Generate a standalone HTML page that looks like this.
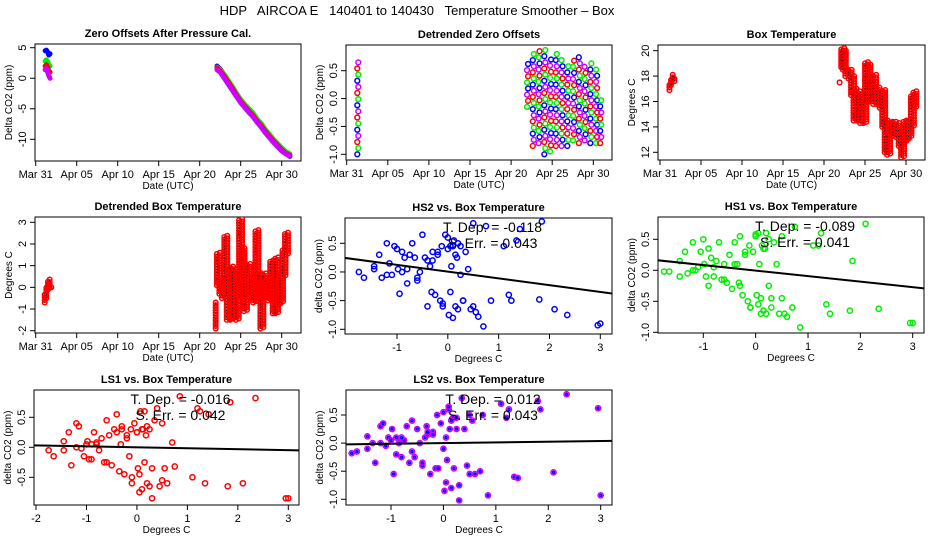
<!DOCTYPE html>
<html><head><meta charset="utf-8">
<style>
html,body{margin:0;padding:0;background:#fff;}
svg{display:block;font-family:"Liberation Sans",sans-serif;}
</style></head>
<body>
<svg id="c" width="936" height="540" viewBox="0 0 936 540">
<text x="417" y="15" font-size="13" text-anchor="middle" style="white-space:pre" xml:space="preserve">HDP   AIRCOA E   140401 to 140430   Temperature Smoother – Box</text>
</svg>
<script>
// ---------- data ----------
const dateTicks = [0,5,10,15,20,25,30];
const dateTickLabels = ["Mar 31","Apr 05","Apr 10","Apr 15","Apr 20","Apr 25","Apr 30"];

// Panel 1: zero offsets (days since Mar 31)
const zoEarlyDays = [1.15,1.3,1.45,1.6,1.75];
const zoEarlyBlue = [4.5,4.6,4.3,3.8,4.0];
const zoEarlyGreen = [2.8,3.0,2.7,2.2,2.0];
const zoEarlyRed = [2.0,2.2,1.8,1.2,1.0];
const zoEarlyMag = [1.4,1.6,1.0,0.4,0.0];
const zoLateDays = [22.1,22.5,23.0,23.5,24.0,24.5,25.0,25.5,26.0,26.5,27.0,27.5,28.0,28.5,29.0,29.5,30.0,30.5,31.0];
const zoLateBlue = [2.0,1.5,0.5,-0.6,-1.6,-2.7,-3.7,-4.5,-5.3,-6.0,-6.9,-7.7,-8.6,-9.4,-10.2,-10.9,-11.6,-12.3,-12.8];
const zoLateGreen = [1.8,1.4,0.6,-0.4,-1.4,-2.5,-3.5,-4.3,-5.0,-5.7,-6.7,-7.4,-8.4,-9.2,-10.0,-10.7,-11.4,-12.0,-12.4];
const zoLateRed = [1.7,1.2,0.3,-0.7,-1.7,-2.8,-3.8,-4.6,-5.4,-6.1,-7.0,-7.8,-8.7,-9.5,-10.3,-11.0,-11.7,-12.3,-12.6];
const zoLateMag = [1.4,1.0,0.0,-1.0,-2.0,-3.0,-4.0,-4.8,-5.6,-6.3,-7.2,-8.0,-8.9,-9.7,-10.5,-11.2,-11.9,-12.4,-12.7];

// Panel 2: detrended zero offsets, columns (time, low, high)
const dzDays = [1.35,22.0,22.7,23.4,24.1,24.8,25.5,26.2,26.9,27.6,28.3,29.0,29.7,30.4,30.9];
const dzLow  = [-1.0,-0.15,-0.85,-0.8,-1.0,-0.95,-0.85,-0.85,-0.85,-0.75,-0.8,-0.75,-0.8,-0.8,-0.8];
const dzHigh = [0.75,0.65,0.85,0.85,0.87,0.75,0.8,0.7,0.65,0.75,0.8,0.65,0.65,0.55,0.0];

// Panel 3: box temperature ranges
const btDays = [1.15,1.35,1.55,1.75,21.9,22.1,22.3,22.6,23.0,23.3,23.6,24.0,24.4,24.8,25.0,25.3,25.6,26.0,26.4,26.8,27.1,27.4,27.7,28.0,28.4,28.8,29.1,29.4,29.7,30.0,30.3,30.6,30.9];
const btLow  = [16.9,17.3,17.7,17.6,17.5,18.7,18.5,18.0,17.8,16.5,14.5,14.5,14.3,14.3,16.0,16.0,16.0,15.8,15.8,15.5,14.0,12.0,11.8,13.5,13.3,13.2,12.5,11.6,12.8,13.0,13.2,14.0,15.5];
const btHigh = [17.3,17.8,18.1,17.9,17.5,20.2,20.0,18.5,18.5,18.0,17.0,16.8,16.5,16.0,19.0,18.8,17.8,18.0,17.0,16.8,16.8,14.5,13.5,14.4,14.3,14.2,13.8,13.5,14.4,14.4,14.2,16.5,16.8];

// Panel 4: detrended box temperature ranges
const dbDays = [1.1,1.3,1.5,1.7,1.9,21.95,22.1,22.4,22.7,23.0,23.3,23.7,24.0,24.4,24.8,25.1,25.4,25.8,26.1,26.5,26.8,27.1,27.4,27.7,28.0,28.3,28.6,28.9,29.2,29.5,29.8,30.1,30.4];
const dbLow  = [-0.7,-0.5,-0.1,0.0,0.0,-1.9,0.1,-0.3,-0.5,-0.2,-1.5,-1.5,-1.4,-1.5,-0.5,-0.3,-1.1,-0.3,-0.5,-0.7,-0.3,-0.6,-1.9,-0.5,-0.3,-0.6,-0.5,-1.2,-1.2,-0.8,-0.7,0.5,1.5];
const dbHigh = [-0.3,0.0,0.3,0.4,0.1,-0.65,1.6,0.3,0.2,2.4,0.5,1.0,0.8,0.3,3.1,1.8,0.8,1.1,0.4,0.5,2.6,0.6,0.3,0.6,0.3,0.2,1.2,0.5,1.4,0.3,0.7,1.8,2.5];

// Scatter panels: detrended box temperature vs detrended offsets
const temps = [-1.75,-1.65,-1.45,-1.45,-1.35,-1.3,-1.2,-1.15,-1.1,-1.05,
 -1.0,-0.98,-0.95,-0.9,-0.85,-0.8,-0.75,-0.7,-0.65,-0.6,
 -0.55,-0.5,-0.45,-0.4,-0.35,-0.32,-0.3,-0.25,-0.2,-0.15,
 -0.12,-0.1,-0.05,0.0,0.02,0.05,0.07,0.1,0.12,0.15,
 0.18,0.2,0.25,0.3,0.35,0.45,0.5,0.55,0.6,0.75,
 0.85,1.1,1.25,1.35,1.42,1.8,1.85,2.1,2.35,3.0,
 -1.2,-0.9,-0.6,-0.3,-0.1,0.05,0.1,0.2,0.3,0.5,
 -0.8,-0.4,-0.2,0.0,0.15,0.25,0.4,0.7,1.2,2.95];
const hs2Vals = [0.0,-0.1,0.1,0.05,0.3,-0.1,0.5,0.15,-0.05,0.45,
 0.4,0.05,-0.38,0.35,0.25,-0.2,0.3,0.5,0.25,-0.1,
 0.0,0.65,0.25,-0.6,0.1,-0.35,0.35,-0.4,0.3,-0.5,
 0.45,-0.6,0.65,0.4,-0.75,-0.35,0.1,-0.8,0.55,-0.6,
 0.25,-0.65,0.45,-0.5,0.35,-0.65,0.85,-0.7,-0.78,0.8,
 -0.5,0.45,-0.5,0.55,0.75,-0.48,0.88,-0.65,-0.75,-0.9,
 -0.05,0.0,-0.15,0.2,-0.55,0.45,0.45,0.5,-0.5,-0.6,
 0.05,0.2,0.35,0.6,0.3,-0.05,0.05,-0.95,-0.4,-0.93];
const hs1Vals = [-0.02,-0.02,0.15,-0.1,0.3,-0.05,0.45,0.0,0.05,0.3,
 0.5,0.1,-0.1,0.35,0.2,-0.1,0.15,0.45,-0.15,0.1,
 -0.2,0.25,-0.3,0.45,0.1,-0.2,0.55,-0.4,0.3,-0.5,
 0.4,-0.6,0.3,0.55,-0.4,-0.55,0.1,-0.7,0.4,-0.65,
 0.35,-0.7,0.5,-0.6,0.45,-0.7,0.55,-0.7,-0.75,0.7,
 -0.92,0.4,0.6,-0.55,-0.7,-0.65,0.15,0.75,-0.62,-0.85,
 0.0,-0.25,-0.15,-0.25,-0.6,0.6,-0.45,0.6,-0.45,-0.45,
 0.05,0.1,0.25,0.58,0.35,-0.25,0.1,-0.6,0.4,-0.85];
const ls1Vals = [-0.05,-0.15,0.1,-0.05,0.25,-0.3,0.4,0.35,-0.02,-0.15,
 0.05,0.1,-0.2,0.05,0.25,0.08,-0.05,0.15,-0.25,0.45,
 0.2,-0.3,0.3,0.25,-0.4,0.05,0.35,-0.45,0.15,-0.15,
 0.3,-0.5,0.4,0.25,-0.35,-0.45,0.6,-0.7,0.3,-0.25,
 0.2,-0.6,0.3,-0.85,0.45,-0.65,0.4,-0.35,-0.6,-0.32,
 0.85,-0.5,0.6,-0.6,0.55,-0.65,0.75,-0.6,0.82,-0.85,
 0.0,-0.2,-0.25,0.3,-0.6,-0.75,0.3,0.35,-0.35,-0.55,
 0.05,0.55,0.2,0.25,0.6,-0.65,0.65,0.08,0.65,-0.85];
const ls2Vals = [-0.18,-0.15,0.12,-0.1,0.0,-0.35,0.3,0.35,-0.05,0.1,
 0.05,0.25,-0.55,0.1,0.0,-0.25,0.05,0.3,-0.35,0.4,
 -0.25,0.25,0.0,-0.4,0.1,0.3,0.15,-0.55,0.2,-0.45,
 0.5,-0.45,0.35,-0.1,-0.85,0.1,-0.3,0.6,0.25,-0.8,
 0.45,-0.45,0.25,-1.02,0.8,-0.4,0.5,0.4,-0.55,0.5,
 -0.93,0.7,0.6,-0.6,-0.62,0.75,0.6,-0.52,0.87,-0.93,
 0.0,-0.2,-0.15,0.2,-0.45,-0.7,0.65,0.45,-0.75,-0.55,
 0.1,-0.35,0.15,0.55,0.4,0.45,0.25,-0.5,0.45,0.62];
const fitSlopes = [-0.118,-0.089,-0.016,0.012];
const fitIntercepts = [0.006,-0.005,0.0,0.0];
const fitErrs = [0.043,0.041,0.042,0.043];

// ---------- drawing ----------
const NS="http://www.w3.org/2000/svg";
const svg=document.getElementById('c');
function mk(tag,attrs,parent){const e=document.createElementNS(NS,tag);for(const k in attrs)e.setAttribute(k,attrs[k]);(parent||svg).appendChild(e);return e;}
function lin(d0,p0,d1,p1){const k=(p1-p0)/(d1-d0);return v=>p0+(v-d0)*k;}

function panel(name,box,sx,sy,xt,xtl,yt,ytl,title,xlab,ylab){
  const g=mk('g',{});
  
  
  const r=mk('rect',{x:box[0],y:box[1],width:box[2]-box[0],height:box[3]-box[1],fill:'none',stroke:'#000','stroke-width':1},g);
  
  
  const t=mk('text',{x:(box[0]+box[2])/2,y:box[1]-7,'font-size':11,'font-weight':'bold','text-anchor':'middle'},g);
  t.textContent=title;
  
  
  const xa=mk('g',{},g);
  
  
  mk('line',{x1:sx(xt[0]),x2:sx(xt[xt.length-1]),y1:box[3],y2:box[3],stroke:'#000'},xa);
  xt.forEach((v,i)=>{const x=sx(v);mk('line',{x1:x,x2:x,y1:box[3],y2:box[3]+5,stroke:'#000'},xa);
    const l=mk('text',{x:x,y:box[3]+17,'font-size':11,'text-anchor':'middle'},xa);l.textContent=xtl[i];
    
    });
  const xl=mk('text',{x:(box[0]+box[2])/2,y:box[3]+28,'font-size':10,'text-anchor':'middle'},g);xl.textContent=xlab;
  
  
  const ya=mk('g',{},g);
  
  
  mk('line',{x1:box[0],x2:box[0],y1:sy(yt[0]),y2:sy(yt[yt.length-1]),stroke:'#000'},ya);
  yt.forEach((v,i)=>{const y=sy(v);mk('line',{x1:box[0]-5,x2:box[0],y1:y,y2:y,stroke:'#000'},ya);
    const l=mk('text',{x:box[0]-9,y:y,'font-size':11,'text-anchor':'middle',transform:`rotate(-90 ${box[0]-9} ${y})`},ya);l.textContent=ytl[i];
    
    });
  const yl=mk('text',{x:box[0]-23,y:(box[1]+box[3])/2,'font-size':10,'text-anchor':'middle',transform:`rotate(-90 ${box[0]-23} ${(box[1]+box[3])/2})`},g);yl.textContent=ylab;
  
  
  const clipId='cl'+name;
  const cp=mk('clipPath',{id:clipId},g);mk('rect',{x:box[0],y:box[1],width:box[2]-box[0],height:box[3]-box[1]},cp);
  const marks=mk('g',{'clip-path':`url(#${clipId})`},g);
  
  
  return marks;
}
function pt(g,x,y,col,r,name){const c=mk('circle',{cx:x,cy:y,r:r||2.4,fill:'none',stroke:col,'stroke-width':1.5},g);
  
  return c;}

const blue='#0000ff',green='#00ee00',red='#ff0000',mag='#d000ff';

// Panel 1
{const sx=lin(0,35.7,30,281.7),sy=lin(5,47.7,-10,139.3);
 const g=panel('zero-offsets-panel',[35,44,301,161],sx,sy,dateTicks,dateTickLabels,[5,0,-5,-10],["5","0","-5","-10"],"Zero Offsets After Pressure Cal.","Date (UTC)","Delta CO2 (ppm)");
 const sets=[[zoEarlyDays,zoEarlyBlue,zoLateDays,zoLateBlue,blue,'hs2'],[zoEarlyDays,zoEarlyGreen,zoLateDays,zoLateGreen,green,'hs1'],[zoEarlyDays,zoEarlyRed,zoLateDays,zoLateRed,red,'ls1'],[zoEarlyDays,zoEarlyMag,zoLateDays,zoLateMag,mag,'ls2']];
 sets.forEach(s=>{[[s[0],s[1]],[s[2],s[3]]].forEach(([d,v])=>{
   const p=mk('polyline',{points:d.map((t,i)=>sx(t)+','+sy(v[i])).join(' '),fill:'none',stroke:s[4],'stroke-width':5,'stroke-linejoin':'round','stroke-linecap':'round'},g);
   
   
 });});}

// Panel 2
{const sx=lin(0,346.7,30,593.3),sy=lin(0.5,70.7,-1,154.3);
 const g=panel('detrended-offsets-panel',[346,45,612,160],sx,sy,dateTicks,dateTickLabels,[0.5,0,-0.5,-1],["0.5","0.0","-0.5","-1.0"],"Detrended Zero Offsets","Date (UTC)","Delta CO2 (ppm)");
 const cols=[blue,green,red,mag];
 dzDays.forEach((t,i)=>{let k=0;for(let v=dzLow[i];v<=dzHigh[i]+1e-9;v+=0.11){pt(g,sx(t)+((k%2)-0.5)*1.0,sy(v),cols[(k+i)%4],2.4,'offset-point');k++;}});}

// Panel 3
{const sx=lin(0,660,30,906),sy=lin(20,50.7,12,152.3);
 const g=panel('box-temperature-panel',[658,45,925,160],sx,sy,dateTicks,dateTickLabels,[20,18,16,14,12],["20","18","16","14","12"],"Box Temperature","Date (UTC)","Degrees C");
 btDays.forEach((t,i)=>{for(let v=btLow[i];v<=btHigh[i]+1e-9;v+=0.2){pt(g,sx(t),sy(v),red,2.3,'temp-point');
   if(i>4){pt(g,sx(t)+3,sy(v+0.1),red,2.3,'temp-point');}}});
 btDays.forEach((t,i)=>{const d=mk('line',{x1:sx(t),x2:sx(t),y1:sy(btLow[i]),y2:sy(btHigh[i]),stroke:'#000','stroke-width':1,'stroke-dasharray':'1 2'},g);
   
   });}

// Panel 4
{const sx=lin(0,35.7,30,281.7),sy=lin(3,222.3,-2,330.7);
 const g=panel('detrended-box-temp-panel',[35,217,301,333],sx,sy,dateTicks,dateTickLabels,[3,2,1,0,-1,-2],["3","2","1","0","-1","-2"],"Detrended Box Temperature","Date (UTC)","Degrees C");
 dbDays.forEach((t,i)=>{for(let v=dbLow[i];v<=dbHigh[i]+1e-9;v+=0.12){pt(g,sx(t),sy(v),red,2.3,'temp-point');
   if(i>5){pt(g,sx(t)+3,sy(v+0.06),red,2.3,'temp-point');}}
   const d=mk('line',{x1:sx(t),x2:sx(t),y1:sy(dbLow[i]),y2:sy(dbHigh[i]),stroke:'#000','stroke-width':1,'stroke-dasharray':'1 2'},g);
   
   });}

// Scatter panels
function scatter(name,box,sx,sy,xt,yt,ytl,title,vals,col,idx,inner){
  const g=panel(name,box,sx,sy,xt,xt.map(String),yt,ytl,title,"Degrees C","delta CO2 (ppm)");
  temps.forEach((t,i)=>{pt(g,sx(t),sy(vals[i]),col,2.6,'scatter-point');if(inner)pt(g,sx(t),sy(vals[i]),inner,1.0,'scatter-point');});
  const x0=-2.2,x1=3.4;
  const l=mk('line',{x1:sx(x0),x2:sx(x1),y1:sy(fitIntercepts[idx]+fitSlopes[idx]*x0),y2:sy(fitIntercepts[idx]+fitSlopes[idx]*x1),stroke:'#000','stroke-width':2},g);
  
  
  const cx=(box[0]+box[2])/2+14;
  const a=mk('text',{x:cx,y:box[1]+14,'font-size':14,'text-anchor':'middle'},svg);a.textContent='T. Dep. = '+fitSlopes[idx].toFixed(3);
  
  
  const b=mk('text',{x:cx,y:box[1]+30,'font-size':14,'text-anchor':'middle'},svg);b.textContent='S. Err. = '+fitErrs[idx].toFixed(3);
  
  
}
scatter('hs2-scatter-panel',[345,218,612,334],lin(-1,397,3,600.3),lin(0.5,243.3,-1,329.3),[-1,0,1,2,3],[0.5,0,-0.5,-1],["0.5","0.0","-0.5","-1.0"],"HS2 vs. Box Temperature",hs2Vals,blue,0,null);
scatter('hs1-scatter-panel',[658,217,924,333],lin(-1,703.3,3,912.7),lin(0.5,239.3,-1,332.3),[-1,0,1,2,3],[0.5,0,-0.5,-1],["0.5","0.0","-0.5","-1.0"],"HS1 vs. Box Temperature",hs1Vals,green,1,null);
scatter('ls1-scatter-panel',[34,390,299,505],lin(-2,36,3,288.3),lin(0.5,417.3,-0.5,477.3),[-2,-1,0,1,2,3],[0.5,0,-0.5],["0.5","0.0","-0.5"],"LS1 vs. Box Temperature",ls1Vals,red,2,null);
scatter('ls2-scatter-panel',[346,390,612,505],lin(-1,391,3,600.7),lin(0.5,415,-1,499.3),[-1,0,1,2,3],[0.5,0,-0.5,-1],["0.5","0.0","-0.5","-1.0"],"LS2 vs. Box Temperature",ls2Vals,mag,3,blue);
</script>
</body></html>
